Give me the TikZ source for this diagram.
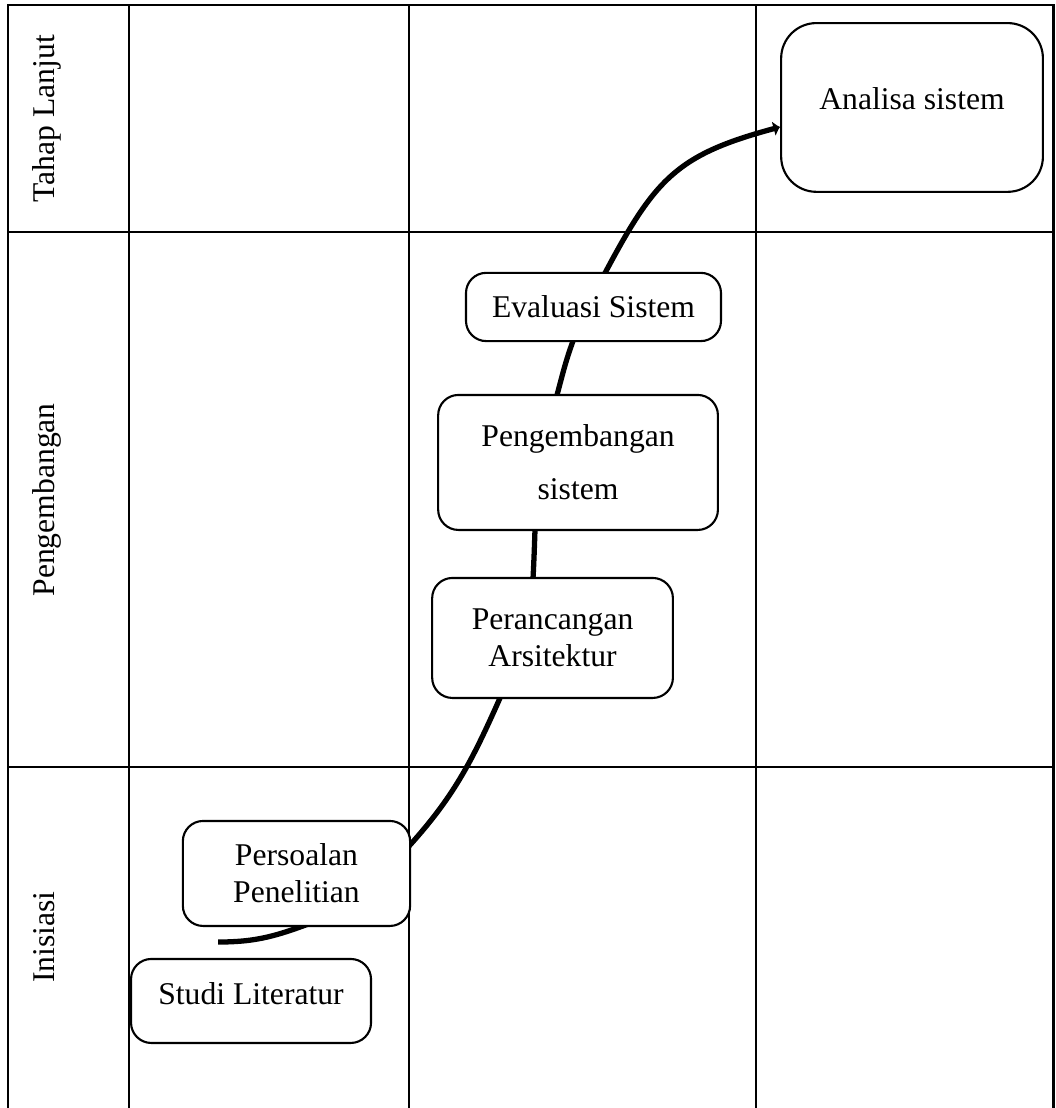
\documentclass[tikz,border=0pt]{standalone}
\usepackage{fontspec}
\setmainfont{Liberation Serif}
\usetikzlibrary{arrows.meta,backgrounds}

\tikzset{
	tahap/.style={draw, line width=0.8pt, rounded corners=0.27cm, fill=white, align=center, inner sep=2pt},
	lajur/.style={rotate=90, anchor=base},
	alur/.style={line width=2pt, -{Latex[length=2.5pt,width=6pt]}},
}

\begin{document}
\begin{tikzpicture}[font=\fontsize{12}{14}\selectfont, line width=0.9pt]
	\useasboundingbox (0,0) rectangle (14.067,14.773);
	% tabel
	\draw (0.107,0) -- (0.107,14.707) -- (14.045,14.707) -- (14.045,0);
	\foreach \x in {1.72,5.453,10.08} \draw (\x,0) -- (\x,14.707);
	\foreach \y in {11.68,4.547} \draw (0.107,\y) -- (14.045,\y);
	\node [lajur] (lanjut) at (0.72,13.19) {Tahap Lanjut};
	\node [lajur] (kembang) at (0.72,8.107) {Pengembangan};
	\node [lajur] (inisiasi) at (0.72,2.28) {Inisiasi};
	% tahapan
	\node [tahap, rounded corners=0.47cm, minimum width=3.49cm, minimum height=2.25cm, text depth=0.24cm] (analisa) at (12.16,13.34) {Analisa sistem};
	\node [tahap, minimum width=3.4cm, minimum height=0.91cm] (evaluasi) at (7.913,10.68) {Evaluasi Sistem};
	\node [tahap, minimum width=3.73cm, minimum height=1.8cm] (pengembangan) at (7.707,8.607) {Pengembangan\\[0.21cm] sistem};
	\node [tahap, minimum width=3.21cm, minimum height=1.6cm] (perancangan) at (7.367,6.267) {Perancangan\\Arsitektur};
	\node [tahap, minimum width=3.03cm, minimum height=1.4cm] (persoalan) at (3.953,3.127) {Persoalan\\Penelitian};
	\node [tahap, minimum width=3.2cm, minimum height=1.12cm, text depth=0.19cm] (studi) at (3.347,1.427) {Studi Literatur};
	% alur
	\begin{scope}[on background layer]
		\coordinate (awal) at (2.907,2.213);
		\draw [alur] (awal) to [out=0,in=200] (4.04,2.427) to [out=20,in=228] (5.467,3.507)
			to [out=48,in=246] (6.667,5.467) to [out=66,in=267] (7.107,7.067)
			to [out=87,in=268] (7.133,7.707) to [out=88,in=255] (7.427,9.507)
			to [out=75,in=250] (7.64,10.227) to [out=70,in=242] (8.067,11.133)
			to [out=62,in=195,looseness=1.2] ([yshift=-0.26cm]analisa.west);
	\end{scope}
\end{tikzpicture}
\end{document}
